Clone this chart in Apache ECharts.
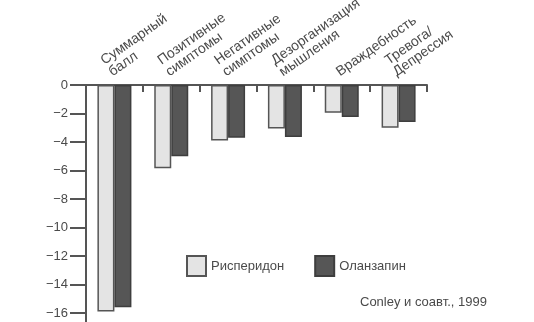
<!DOCTYPE html>
<html>
<head>
<meta charset="utf-8">
<script src="https://cdn.jsdelivr.net/npm/echarts@6/dist/echarts.min.js"></script>
<style>
  html, body { margin: 0; padding: 0; background: #fff; }
  #chart { width: 534px; height: 322px; }
</style>
</head>
<body>
<div id="chart"></div>
<script>
// Change from baseline on PANSS scales
const categories = [
  'Суммарный\nбалл',
  'Позитивные\nсимптомы',
  'Негативные\nсимптомы',
  'Дезорганизация\nмышления',
  'Враждебность',
  'Тревога/\nДепрессия'
];
const risperidone = [-15.9, -5.85, -3.9, -3.05, -1.95, -3.0];
const olanzapine = [-15.6, -5.0, -3.7, -3.65, -2.25, -2.6];
const seriesNames = ['Рисперидон', 'Оланзапин'];
const sourceNote = 'Conley и соавт., 1999';

const FONT = '"Liberation Sans", Arial, sans-serif';
const INK = '#4a4a4a';

const chart = echarts.init(document.getElementById('chart'), null, { renderer: 'canvas' });

chart.setOption({
  backgroundColor: '#ffffff',
  animation: false,
  textStyle: { fontFamily: FONT },
  grid: {
    left: 86, right: 107, top: 85, bottom: 9,
    containLabel: false,
    outerBoundsMode: 'none'
  },
  legend: {
    left: 181,
    top: 250,
    itemWidth: 19,
    itemHeight: 20,
    itemGap: 30,
    icon: 'rect',
    textStyle: { fontSize: 13, color: INK, fontFamily: FONT },
    data: seriesNames
  },
  xAxis: {
    type: 'category',
    position: 'top',
    data: categories,
    axisLine: { lineStyle: { color: '#555', width: 2 } },
    axisTick: { show: true, inside: true, length: 7, lineStyle: { color: '#555', width: 2 } },
    axisLabel: {
      rotate: 35,
      margin: 6,
      fontSize: 14,
      lineHeight: 14,
      verticalAlign: 'bottom',
      color: INK,
      fontFamily: FONT
    }
  },
  yAxis: {
    type: 'value',
    min: -16,
    max: 0,
    interval: 2,
    axisLine: { show: true, lineStyle: { color: '#555', width: 2 } },
    axisTick: { show: true, length: 16, lineStyle: { color: '#555', width: 2 } },
    axisLabel: {
      fontSize: 13,
      color: INK,
      margin: 18,
      fontFamily: FONT,
      formatter: (v) => String(v).replace('-', '\u2212')
    },
    splitLine: { show: false }
  },
  series: [
    {
      name: seriesNames[0],
      type: 'bar',
      data: risperidone,
      barWidth: 17,
      barGap: '0%',
      itemStyle: { color: '#e4e4e4', borderColor: '#555', borderWidth: 1.5 }
    },
    {
      name: seriesNames[1],
      type: 'bar',
      data: olanzapine,
      barWidth: 17,
      itemStyle: { color: '#565656', borderColor: '#3e3e3e', borderWidth: 1.5 }
    }
  ]
});

// Source note, and the value axis line running a little past the last tick
const bottomPt = chart.convertToPixel({ yAxisIndex: 0 }, -16);
chart.setOption({
  graphic: [
    {
      type: 'text',
      left: 360,
      top: 296,
      style: { text: sourceNote, font: '13px ' + FONT, fill: INK }
    },
    {
      type: 'line',
      shape: { x1: 86, y1: bottomPt, x2: 86, y2: 322 },
      style: { stroke: '#555', lineWidth: 2 }
    }
  ]
});
</script>
</body>
</html>
